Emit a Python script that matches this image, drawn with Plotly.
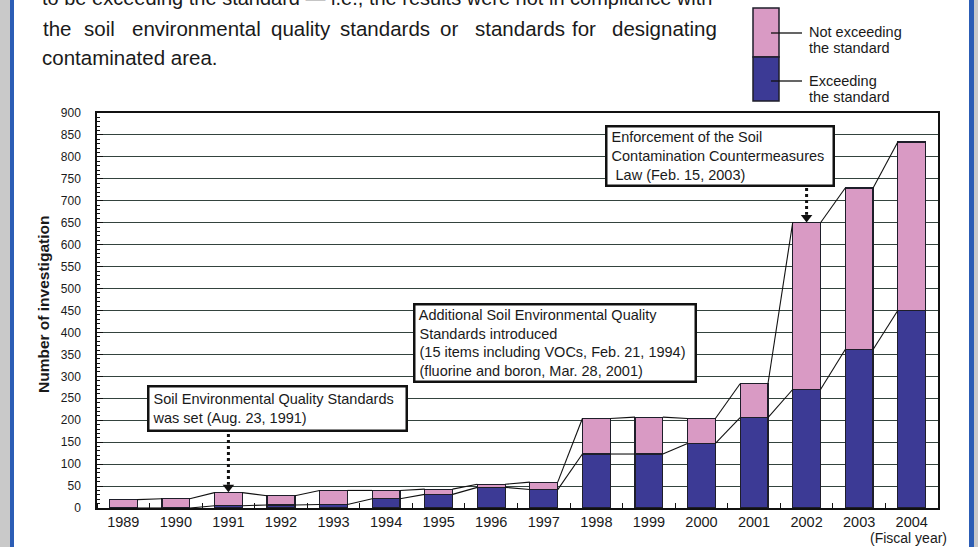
import plotly.graph_objects as go

# ---- data ----
years = list(range(1989, 2005))
exceeding = [0, 0, 5, 7, 8, 21, 31, 47, 42, 123, 123, 147, 206, 270, 361, 450]
not_exceeding = [19, 21, 30, 21, 32, 19, 12, 7, 17, 81, 84, 57, 77, 380, 368, 384]
year_labels = [str(y) for y in years]

totals = [a + b for a, b in zip(exceeding, not_exceeding)]

PINK = "#d99ac4"
BLUE = "#3c3a95"
EDGE = "#1e1e2a"
FONT = "Liberation Sans, Arial, sans-serif"
BAR_W = 0.53

# layout geometry (pixels)
W_PX, H_PX = 978, 547
L, R, T, B = 97, 40, 113, 39
PW = W_PX - L - R
PH = H_PX - T - B


def px2x(px):
    return (px - L) / PW


def py2y(py):
    return (H_PX - B - py) / PH


fig = go.Figure()
fig.add_trace(go.Bar(x=years, y=exceeding, name="Exceeding the standard",
                     marker=dict(color=BLUE, line=dict(color=EDGE, width=1.2)),
                     width=BAR_W))
fig.add_trace(go.Bar(x=years, y=not_exceeding, name="Not exceeding the standard",
                     marker=dict(color=PINK, line=dict(color=EDGE, width=1.2)),
                     width=BAR_W))

# connecting lines between bar tops (totals and exceeding)
for series in (totals, exceeding):
    xs, ys = [], []
    for i in range(len(years) - 1):
        xs += [years[i] + BAR_W / 2, years[i + 1] - BAR_W / 2, None]
        ys += [series[i], series[i + 1], None]
    fig.add_trace(go.Scatter(x=xs, y=ys, mode="lines",
                             line=dict(color="#111", width=1.1),
                             hoverinfo="skip", showlegend=False))

shapes = []
annotations = []

# page frame (scan edges)
shapes += [
    dict(type="rect", xref="paper", yref="paper", x0=px2x(0), x1=px2x(10),
         y0=py2y(H_PX), y1=py2y(0), fillcolor="#c9c9c9", line=dict(width=0), layer="below"),
    dict(type="rect", xref="paper", yref="paper", x0=px2x(10), x1=px2x(14),
         y0=py2y(H_PX), y1=py2y(0), fillcolor="#2c5db5", line=dict(width=0), layer="below"),
    dict(type="rect", xref="paper", yref="paper", x0=px2x(969), x1=px2x(974),
         y0=py2y(H_PX), y1=py2y(0), fillcolor="#2c5db5", line=dict(width=0), layer="below"),
    dict(type="rect", xref="paper", yref="paper", x0=px2x(974), x1=px2x(978),
         y0=py2y(H_PX), y1=py2y(0), fillcolor="#c9c9c9", line=dict(width=0), layer="below"),
]

# custom legend
shapes += [
    dict(type="rect", xref="paper", yref="paper", x0=px2x(753), x1=px2x(779),
         y0=py2y(57), y1=py2y(8), fillcolor=PINK, line=dict(color=EDGE, width=1.5)),
    dict(type="rect", xref="paper", yref="paper", x0=px2x(753), x1=px2x(779),
         y0=py2y(101), y1=py2y(57), fillcolor=BLUE, line=dict(color=EDGE, width=1.5)),
    dict(type="line", xref="paper", yref="paper", x0=px2x(771), x1=px2x(802),
         y0=py2y(33), y1=py2y(33), line=dict(color="#111", width=1.3)),
    dict(type="line", xref="paper", yref="paper", x0=px2x(771), x1=px2x(802),
         y0=py2y(81), y1=py2y(81), line=dict(color="#111", width=1.3)),
]
for txt, yc in (("Not exceeding", 32), ("the standard", 48), ("Exceeding", 81), ("the standard", 97)):
    annotations.append(dict(xref="paper", yref="paper", x=px2x(807), y=py2y(yc),
                            xanchor="left", yanchor="middle", text=txt, showarrow=False,
                            font=dict(family=FONT, size=14.5, color="#1a1a1a")))

# top paragraph text
annotations.append(dict(xref="paper", yref="paper", x=px2x(40), y=py2y(5 + 6),
                        xanchor="left", yanchor="bottom",
                        text="to be exceeding the standard — i.e., the results were not in compliance with",
                        showarrow=False, font=dict(family=FONT, size=20, color="#1a1a1a")))
line2 = [("the", 41), ("soil", 82), ("environmental", 130), ("quality", 269),
         ("standards", 338), ("or", 438), ("standards", 473), ("for", 570),
         ("designating", 610)]
for w, xpx in line2:
    annotations.append(dict(xref="paper", yref="paper", x=px2x(xpx), y=py2y(36 + 6),
                            xanchor="left", yanchor="bottom", text=w, showarrow=False,
                            font=dict(family=FONT, size=20.5, color="#1a1a1a")))
annotations.append(dict(xref="paper", yref="paper", x=px2x(40), y=py2y(65 + 6),
                        xanchor="left", yanchor="bottom", text="contaminated area.",
                        showarrow=False, font=dict(family=FONT, size=20.5, color="#1a1a1a")))


# callout boxes
def callout(text, x0, x1, y0, y1, size):
    bw, pad = 2.5, 0
    annotations.append(dict(
        xref="paper", yref="paper", x=px2x(x0), y=py2y(y0), xanchor="left", yanchor="top",
        text=text, showarrow=False, align="left", valign="middle",
        width=(x1 - x0) - 2 * bw - 2 * pad, height=(y1 - y0) - 2 * bw - 2 * pad,
        bordercolor="#111", borderwidth=bw, borderpad=pad, bgcolor="white",
        font=dict(family=FONT, size=size, color="#1a1a1a")))


callout(" Soil Environmental Quality Standards<br> was set (Aug. 23, 1991)", 147, 408, 385, 432, 14.5)
callout(" Additional Soil Environmental Quality<br> Standards introduced<br>"
        " (15 items including VOCs, Feb. 21, 1994)<br> (fluorine and boron, Mar. 28, 2001)",
        413, 697, 303, 383, 14.5)
callout(" Enforcement of the Soil<br> Contamination Countermeasures<br>  Law (Feb. 15, 2003)",
        605, 835, 125, 187, 14.5)

# dotted arrows to 1991 and 2002 bars
arrows = [(years.index(1991), 434), (years.index(2002), 188)]
for idx, ytop_px in arrows:
    yr = years[idx]
    tip = totals[idx] + 12
    top_val = (H_PX - B - ytop_px) / PH * 900
    fig.add_trace(go.Scatter(x=[yr, yr], y=[top_val, tip + 6], mode="lines",
                             line=dict(color="#111", width=3, dash="dot"),
                             hoverinfo="skip", showlegend=False))
    fig.add_trace(go.Scatter(x=[yr], y=[tip], mode="markers",
                             marker=dict(symbol="triangle-down", size=10, color="#111"),
                             hoverinfo="skip", showlegend=False))

# axis titles
annotations += [
    dict(xref="paper", yref="paper", x=px2x(43), y=py2y(305), xanchor="center", yanchor="middle",
         text="<b>Number of investigation</b>",
         textangle=-90, showarrow=False, font=dict(family=FONT, size=15.5, color="#1a1a1a")),
    dict(xref="paper", yref="paper", x=px2x(949), y=py2y(538), xanchor="right", yanchor="middle",
         text="(Fiscal year)", showarrow=False, font=dict(family=FONT, size=14, color="#1a1a1a")),
]

fig.update_layout(
    width=W_PX, height=H_PX,
    margin=dict(l=L, r=R, t=T, b=B),
    paper_bgcolor="white", plot_bgcolor="white",
    barmode="stack", bargap=0.47,
    showlegend=False,
    shapes=shapes, annotations=annotations,
    font=dict(family=FONT, color="#1a1a1a"),
)
fig.update_xaxes(range=[1988.5, 2004.5], tickmode="array", tickvals=years, ticktext=year_labels,
                 ticks="", showgrid=False, showline=True, linecolor="#111", linewidth=1.5,
                 mirror=True, tickfont=dict(family=FONT, size=14.5, color="#1a1a1a"),
                 minor=dict(tick0=1988.5, dtick=1, ticks="inside", ticklen=5,
                            tickcolor="#111", showgrid=False),
                 zeroline=False)
fig.update_yaxes(range=[0, 900], tick0=0, dtick=50, showgrid=True, gridcolor="#34433e",
                 gridwidth=1.2, ticks="inside", ticklen=6, tickcolor="#111",
                 showline=True, linecolor="#111", linewidth=1.5, mirror=True,
                 ticklabelstandoff=12,
                 tickfont=dict(family=FONT, size=12, color="#1a1a1a"),
                 minor=dict(dtick=10, ticks="inside", ticklen=3, tickcolor="#111", showgrid=False),
                 zeroline=False)

fig.write_html("out.html")
